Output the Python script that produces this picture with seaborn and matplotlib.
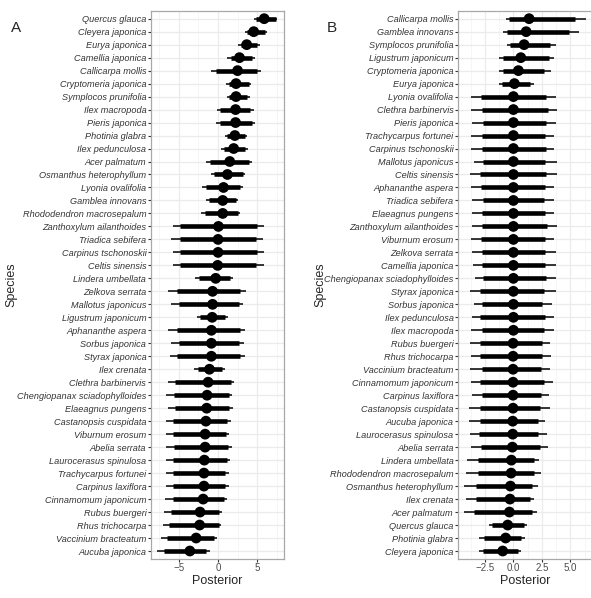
import numpy as np
import pandas as pd
import matplotlib
matplotlib.use("Agg")
import matplotlib.pyplot as plt
import seaborn as sns
from matplotlib.ticker import MultipleLocator

# ---------------- Panel A data ----------------
species_a = [
    "Quercus glauca", "Cleyera japonica", "Eurya japonica", "Camellia japonica",
    "Callicarpa mollis", "Cryptomeria japonica", "Symplocos prunifolia", "Ilex macropoda",
    "Pieris japonica", "Photinia glabra", "Ilex pedunculosa", "Acer palmatum",
    "Osmanthus heterophyllum", "Lyonia ovalifolia", "Gamblea innovans",
    "Rhododendron macrosepalum", "Zanthoxylum ailanthoides", "Triadica sebifera",
    "Carpinus tschonoskii", "Celtis sinensis", "Lindera umbellata", "Zelkova serrata",
    "Mallotus japonicus", "Ligustrum japonicum", "Aphananthe aspera", "Sorbus japonica",
    "Styrax japonica", "Ilex crenata", "Clethra barbinervis",
    "Chengiopanax sciadophylloides", "Elaeagnus pungens", "Castanopsis cuspidata",
    "Viburnum erosum", "Abelia serrata", "Laurocerasus spinulosa", "Trachycarpus fortunei",
    "Carpinus laxiflora", "Cinnamomum japonicum", "Rubus buergeri", "Rhus trichocarpa",
    "Vaccinium bracteatum", "Aucuba japonica",
]
median_a = [5.9, 4.56, 3.67, 2.74, 2.5, 2.3, 2.3, 2.24, 2.24, 2.15, 2.0, 1.5, 1.2, 0.7,
            0.6, 0.6, 0.05, 0.0, 0.0, -0.05, -0.3, -0.7, -0.7, -0.75, -0.85, -0.85, -0.85,
            -1.1, -1.27, -1.4, -1.45, -1.55, -1.65, -1.65, -1.75, -1.8, -1.8, -1.9, -2.3,
            -2.35, -2.8, -3.6]
thick_lo_a = [4.8, 3.7, 2.9, 1.6, -0.25, 1.35, 1.4, 0.3, 0.3, 1.2, 0.7, -1.05, -0.55, -1.5,
              -1.1, -1.7, -4.8, -4.85, -4.8, -4.85, -2.45, -5.2, -5.05, -2.25, -5.2, -5.05,
              -5.2, -2.55, -5.5, -5.6, -5.5, -5.7, -5.7, -5.6, -5.7, -5.7, -5.7, -5.7, -6.05,
              -6.25, -6.55, -6.95]
thick_hi_a = [7.4, 6.0, 5.0, 4.3, 5.0, 3.9, 3.75, 4.1, 4.3, 3.45, 3.45, 3.9, 3.2, 2.75,
              2.3, 2.5, 5.0, 4.85, 4.95, 4.85, 1.55, 2.8, 2.7, 0.9, 2.75, 2.7, 2.75, 0.5,
              1.65, 1.4, 1.45, 1.2, 1.05, 1.25, 1.15, 0.95, 0.95, 0.7, 0.1, 0.1, -0.55, -1.5]
thin_lo_a = [4.6, 3.4, 2.6, 1.2, -0.85, 1.05, 1.1, -0.1, -0.2, 0.9, 0.4, -1.6, -0.85, -2.0,
             -1.5, -2.15, -5.8, -5.95, -5.8, -5.75, -2.95, -6.4, -6.05, -2.65, -6.4, -6.05,
             -6.2, -3.1, -6.4, -6.6, -6.4, -6.6, -6.6, -6.6, -6.6, -6.65, -6.65, -6.8, -6.9,
             -7.0, -7.3, -7.8]
thin_hi_a = [7.6, 6.2, 5.4, 4.7, 5.5, 4.2, 4.1, 4.6, 4.7, 3.7, 3.8, 4.3, 3.45, 3.2,
             2.6, 2.8, 5.9, 5.8, 5.85, 5.9, 1.9, 3.6, 3.25, 1.25, 3.4, 3.35, 3.45, 0.9,
             2.05, 1.8, 1.85, 1.65, 1.45, 1.75, 1.55, 1.35, 1.35, 1.15, 0.5, 0.4, -0.1, -1.05]

# ---------------- Panel B data ----------------
species_b = [
    "Callicarpa mollis", "Gamblea innovans", "Symplocos prunifolia", "Ligustrum japonicum",
    "Cryptomeria japonica", "Eurya japonica", "Lyonia ovalifolia", "Clethra barbinervis",
    "Pieris japonica", "Trachycarpus fortunei", "Carpinus tschonoskii", "Mallotus japonicus",
    "Celtis sinensis", "Aphananthe aspera", "Triadica sebifera", "Elaeagnus pungens",
    "Zanthoxylum ailanthoides", "Viburnum erosum", "Zelkova serrata", "Camellia japonica",
    "Chengiopanax sciadophylloides", "Styrax japonica", "Sorbus japonica", "Ilex pedunculosa",
    "Ilex macropoda", "Rubus buergeri", "Rhus trichocarpa", "Vaccinium bracteatum",
    "Cinnamomum japonicum", "Carpinus laxiflora", "Castanopsis cuspidata", "Aucuba japonica",
    "Laurocerasus spinulosa", "Abelia serrata", "Lindera umbellata",
    "Rhododendron macrosepalum", "Osmanthus heterophyllum", "Ilex crenata", "Acer palmatum",
    "Quercus glauca", "Photinia glabra", "Cleyera japonica",
]
median_b = [1.38, 1.12, 0.94, 0.65, 0.44, 0.09, 0.0, 0.0, 0.0, 0.0, 0.0, 0.0, 0.0, 0.0,
            0.0, 0.0, 0.0, 0.0, 0.0, 0.0, 0.0, 0.0, 0.0, 0.0, 0.0, -0.03, -0.03, -0.03,
            -0.03, -0.03, -0.03, -0.06, -0.06, -0.09, -0.18, -0.2, -0.26, -0.3, -0.35,
            -0.5, -0.68, -0.94]
thick_lo_b = [-0.35, -0.53, -0.3, -0.94, -0.88, -1.0, -2.85, -2.8, -2.7, -2.8, -2.8, -2.7,
              -2.95, -2.85, -2.65, -2.75, -2.8, -2.85, -2.75, -2.8, -2.65, -2.9, -2.75,
              -2.95, -2.8, -2.9, -2.9, -2.8, -2.95, -2.8, -2.95, -2.95, -3.0, -2.85, -3.1,
              -3.15, -3.3, -3.3, -3.45, -1.9, -2.55, -2.65]
thick_hi_b = [5.45, 4.9, 3.25, 3.1, 2.65, 1.5, 2.85, 3.0, 2.85, 2.8, 2.85, 2.8, 2.85, 2.75,
              2.65, 2.75, 2.95, 2.8, 2.75, 2.75, 2.85, 2.65, 2.55, 2.8, 2.65, 2.55, 2.5,
              2.45, 2.7, 2.45, 2.35, 2.2, 2.2, 2.35, 1.8, 1.8, 1.6, 1.45, 1.6, 0.9, 0.68, 0.38]
thin_lo_b = [-0.68, -0.94, -0.6, -1.3, -1.3, -1.3, -3.7, -3.7, -3.6, -3.7, -3.7, -3.5,
             -3.8, -3.75, -3.6, -3.6, -3.6, -3.75, -3.6, -3.55, -3.4, -3.8, -3.5, -3.6,
             -3.75, -3.8, -3.75, -3.8, -3.75, -3.6, -3.9, -3.9, -3.8, -3.75, -4.05, -4.2,
             -4.3, -4.2, -4.3, -2.1, -3.0, -3.0]
thin_hi_b = [6.4, 5.8, 3.7, 3.6, 3.3, 1.85, 3.7, 3.85, 3.75, 3.55, 3.6, 3.8, 3.8, 3.6,
             3.6, 3.6, 3.8, 3.55, 3.75, 3.7, 3.75, 3.75, 3.4, 3.6, 3.55, 3.25, 3.3, 3.25,
             3.45, 3.15, 3.25, 2.75, 2.95, 3.0, 2.25, 2.45, 2.2, 1.85, 2.05, 1.2, 1.0, 0.68]

W, H = 591, 598
FS_LAB = 6.55

sns.set_theme(style="white")
plt.rcParams["font.family"] = ["Liberation Sans", "DejaVu Sans"]

fig = plt.figure(figsize=(W / 100, H / 100), dpi=100)

grid_col = "#EBEBEB"
border_col = "#A8A8A8"

BOT_PX, TOP_PX = 558.8, 10.9


def draw_panel(ax, species, med, tlo, thi, nlo, nhi, xlim, major, minor, fmt,
               left_px, right_px, ylab_x_px):
    n = len(species)
    df = pd.DataFrame({"species": species, "median": med, "tlo": tlo, "thi": thi,
                       "nlo": nlo, "nhi": nhi})
    df["pos"] = np.arange(n)
    ax.set_facecolor("white")
    ax.xaxis.set_major_locator(MultipleLocator(major))
    ax.xaxis.set_minor_locator(MultipleLocator(minor))
    ax.set_yticks(df["pos"])
    ax.set_yticklabels(df["species"], fontstyle="italic", fontsize=FS_LAB, color="#333333")
    ax.grid(True, which="major", axis="both", color=grid_col, lw=0.9, zorder=0)
    ax.grid(True, which="minor", axis="x", color="#F3F3F3", lw=0.5, zorder=0)
    ax.set_axisbelow(True)
    ax.hlines(df["pos"], df["nlo"], df["nhi"], color="black", lw=1.1, zorder=2)
    ax.hlines(df["pos"], df["tlo"], df["thi"], color="black", lw=3.3, zorder=3)
    sns.scatterplot(data=df, x="median", y="pos", ax=ax, color="black", s=60,
                    edgecolor="none", zorder=4, legend=False)
    ax.set_ylim(n - 1 + 0.6, -0.6)
    ax.set_xlim(*xlim)
    ax.xaxis.set_major_formatter(matplotlib.ticker.FuncFormatter(lambda v, p: fmt(v)))
    ax.tick_params(axis="both", which="major", length=2.2, width=0.8, color="#333333",
                   pad=1.2)
    ax.tick_params(axis="x", which="major", labelsize=7.0, labelcolor="#4D4D4D", pad=0.8)
    ax.tick_params(axis="both", which="minor", length=0)
    ax.tick_params(left=True, bottom=True)
    for s in ax.spines.values():
        s.set_color(border_col)
        s.set_linewidth(0.9)
    ax.set_xlabel("Posterior", fontsize=9)
    ax.set_ylabel("Species", fontsize=9)
    w_px = right_px - left_px
    ax.xaxis.set_label_coords(0.5, -(581 - BOT_PX) / (BOT_PX - TOP_PX))
    ax.yaxis.set_label_coords((ylab_x_px - left_px) / w_px, 0.5)
    ax.xaxis.label.set_va("center")
    ax.yaxis.label.set_va("center")
    return ax


def fmt_a(v):
    return f"{v:.0f}".replace("-", "\u2212")


def fmt_b(v):
    return f"{v:.1f}".replace("-", "\u2212")


bottom = 1 - BOT_PX / H
height = (BOT_PX - TOP_PX) / H

axA = fig.add_axes([151 / W, bottom, (283.5 - 151) / W, height])
draw_panel(axA, species_a, median_a, thick_lo_a, thick_hi_a, thin_lo_a, thin_hi_a,
           (-8.57, 8.37), 5, 2.5, fmt_a, 151, 283.5, 11)

axB = fig.add_axes([458.3 / W, bottom, (592.4 - 458.3) / W, height])
draw_panel(axB, species_b, median_b, thick_lo_b, thick_hi_b, thin_lo_b, thin_hi_b,
           (-4.84, 6.94), 2.5, 1.25, fmt_b, 458.3, 592.4, 320)

fig.text(11 / W, 1 - 28 / H, "A", fontsize=11, va="center", ha="left")
fig.text(327 / W, 1 - 28 / H, "B", fontsize=11, va="center", ha="left")

fig.savefig("out.png", dpi=100, facecolor="white")
